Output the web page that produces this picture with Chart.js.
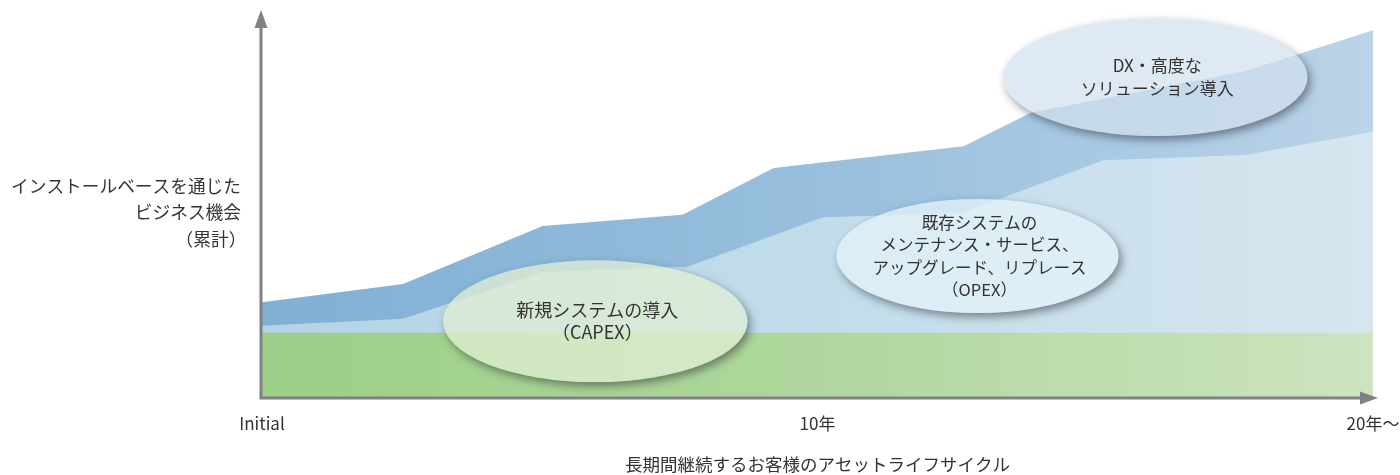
<!DOCTYPE html>
<html lang="ja">
<head>
<meta charset="utf-8">
<title>アセットライフサイクル</title>
<script src="https://cdn.jsdelivr.net/npm/chart.js@4.4.1/dist/chart.umd.min.js"></script>
<style>
    html, body { margin: 0; padding: 0; background: #fff; }
</style>
</head>
<body>
<canvas id="graficoArea" width="1400" height="475"></canvas>
<script>
// x = years (0 = Initial, 20 = 20年〜), y = cumulative business (0-100)
var baseYears = [0, 20];
var baseValues = [16.8, 16.8];

var opexYears = [0, 2.54, 5.05, 7.66, 10.1, 12.6, 15.15, 17.7, 20];
var opexValues = [18.6, 20.4, 32.5, 33.8, 46.6, 47.7, 61.3, 62.6, 68.6];

var dxYears = [0, 2.54, 5.05, 7.57, 9.21, 12.63, 13.84, 17.71, 20];
var dxValues = [24.7, 29.4, 44.3, 47.2, 59.3, 64.9, 73.5, 84.3, 94.8];

var tickYears = [0, 10, 20];
var tickLabels = ['Initial', '10年', '20年〜'];

var xTitle = '長期間継続するお客様のアセットライフサイクル';
var yTitle = ['インストールベースを通じた', 'ビジネス機会', '（累計）'];

var bubbleTexts = [
    ['新規システムの導入', '（CAPEX）'],
    ['既存システムの', 'メンテナンス・サービス、', 'アップグレード、リプレース', '（OPEX）'],
    ['DX・高度な', 'ソリューション導入']
];

// where the bubbles sit, in chart units
var bubbleLayout = [
    { year: 6.0, value: 19.8, rYear: 2.74, rValue: 15.7, font: 18, fill: 'rgba(225,238,211,0.75)' },
    { year: 12.88, value: 36.6, rYear: 2.54, rValue: 14.7, font: 16.5, fill: 'rgba(228,242,249,0.76)' },
    { year: 16.08, value: 82.7, rYear: 2.74, rValue: 15.2, font: 17, fill: 'rgba(210,223,238,0.7)' }
];

var fontFamily = '"Noto Sans CJK JP", "Noto Sans", sans-serif';
var textColor = '#333333';
var axisColor = '#808085';

function toPoints(xs, ys) {
    var out = [];
    for (var i = 0; i < xs.length; i++) {
        out.push({ x: xs[i], y: ys[i] });
    }
    return out;
}

function gradient(stops) {
    return function (context) {
        var chart = context.chart;
        var area = chart.chartArea;
        if (!area) {
            return stops[0];
        }
        var g = chart.ctx.createLinearGradient(area.left, 0, area.right, 0);
        for (var i = 0; i < stops.length; i++) {
            g.addColorStop(i / (stops.length - 1), stops[i]);
        }
        return g;
    };
}

var axesPlugin = {
    id: 'frecce',
    afterDatasetsDraw: function (chart) {
        var ctx = chart.ctx;
        var a = chart.chartArea;
        var x0 = a.left - 1;
        var y0 = a.bottom;
        ctx.save();
        ctx.strokeStyle = axisColor;
        ctx.fillStyle = axisColor;
        ctx.lineWidth = 3;
        ctx.beginPath();
        ctx.moveTo(x0, y0 + 1.5);
        ctx.lineTo(x0, a.top + 14);
        ctx.moveTo(x0 - 1.5, y0);
        ctx.lineTo(a.right - 10, y0);
        ctx.stroke();
        // arrow heads
        ctx.beginPath();
        ctx.moveTo(x0, a.top);
        ctx.lineTo(x0 + 6.5, a.top + 18);
        ctx.lineTo(x0 - 6.5, a.top + 18);
        ctx.closePath();
        ctx.fill();
        ctx.beginPath();
        ctx.moveTo(a.right + 5, y0);
        ctx.lineTo(a.right - 13, y0 - 6.5);
        ctx.lineTo(a.right - 13, y0 + 6.5);
        ctx.closePath();
        ctx.fill();
        ctx.restore();
    }
};

function drawBubble(chart, b, lines) {
    var ctx = chart.ctx;
    var xs = chart.scales.x;
    var ys = chart.scales.y;
    var cx = xs.getPixelForValue(b.year);
    var cy = ys.getPixelForValue(b.value);
    var rx = xs.getPixelForValue(b.year + b.rYear) - cx;
    var ry = cy - ys.getPixelForValue(b.value + b.rValue);

    // shadow only outside the ellipse
    ctx.save();
    ctx.beginPath();
    ctx.rect(0, 0, chart.width, chart.height);
    ctx.moveTo(cx + rx, cy);
    ctx.ellipse(cx, cy, rx, ry, 0, 0, Math.PI * 2);
    ctx.clip('evenodd');
    ctx.shadowColor = 'rgba(40,40,50,0.5)';
    ctx.shadowBlur = 8;
    ctx.shadowOffsetX = 10003;
    ctx.shadowOffsetY = 4;
    ctx.fillStyle = '#000';
    ctx.beginPath();
    ctx.ellipse(cx - 10000, cy, rx, ry, 0, 0, Math.PI * 2);
    ctx.fill();
    ctx.restore();

    ctx.save();
    ctx.beginPath();
    ctx.ellipse(cx, cy, rx, ry, 0, 0, Math.PI * 2);
    ctx.fillStyle = b.fill;
    ctx.fill();

    ctx.fillStyle = textColor;
    ctx.font = b.font + 'px ' + fontFamily;
    ctx.textAlign = 'center';
    ctx.textBaseline = 'middle';
    var lh = 22.5;
    var startY = cy - (lines.length - 1) * lh / 2;
    for (var i = 0; i < lines.length; i++) {
        ctx.fillText(lines[i], cx + 2, startY + i * lh);
    }
    ctx.restore();
}

var labelsPlugin = {
    id: 'etichette',
    afterDraw: function (chart) {
        var ctx = chart.ctx;
        var a = chart.chartArea;
        for (var i = 0; i < bubbleLayout.length; i++) {
            drawBubble(chart, bubbleLayout[i], bubbleTexts[i]);
        }
        // y title, horizontal, to the left of the axis
        ctx.save();
        ctx.fillStyle = textColor;
        ctx.font = '17.7px ' + fontFamily;
        ctx.textBaseline = 'middle';
        var lh = 26.5;
        var midY = a.top + (a.bottom - a.top) * 0.522;
        var rightX = a.left - 21;
        ctx.textAlign = 'right';
        ctx.fillText(yTitle[0], rightX, midY - lh);
        ctx.fillText(yTitle[1], rightX, midY);
        ctx.textAlign = 'center';
        ctx.fillText(yTitle[2], rightX - 30, midY + lh);
        ctx.restore();
    }
};

var ctx = document.getElementById('graficoArea');
var chart = new Chart(ctx, {
    type: 'line',
    data: {
        datasets: [{
            label: 'CAPEX',
            data: toPoints(baseYears, baseValues),
            backgroundColor: gradient(['#9ccf87', '#afd79d', '#cde4c0']),
            fill: 'origin'
        }, {
            label: 'OPEX',
            data: toPoints(opexYears, opexValues),
            backgroundColor: gradient(['#b3d3e4', '#c2dcea', '#d6e6ef']),
            fill: 'origin'
        }, {
            label: 'DX',
            data: toPoints(dxYears, dxValues),
            backgroundColor: gradient(['#80afd4', '#98bfdd', '#bad3e8']),
            fill: 'origin'
        }]
    },
    options: {
        responsive: false,
        animation: false,
        layout: { padding: { left: 262, right: 27, top: 10, bottom: 0 } },
        elements: {
            line: { borderWidth: 0, tension: 0 },
            point: { radius: 0, hoverRadius: 0 }
        },
        plugins: {
            legend: { display: false },
            tooltip: { enabled: false }
        },
        scales: {
            x: {
                type: 'linear',
                min: 0,
                max: 20,
                afterBuildTicks: function (scale) {
                    var t = [];
                    for (var i = 0; i < tickYears.length; i++) {
                        t.push({ value: tickYears[i] });
                    }
                    scale.ticks = t;
                },
                afterFit: function (scale) {
                    scale.height = 77;
                    scale.paddingLeft = 0;
                    scale.paddingRight = 0;
                },
                grid: { display: false, drawTicks: false },
                border: { display: false },
                ticks: {
                    autoSkip: false,
                    maxRotation: 0,
                    padding: 15,
                    color: textColor,
                    font: { family: fontFamily, size: 17 },
                    callback: function (value, index) {
                        return tickLabels[index];
                    }
                },
                title: {
                    display: true,
                    text: xTitle,
                    color: textColor,
                    font: { family: fontFamily, size: 17.5 },
                    padding: { top: 0, bottom: 0 }
                }
            },
            y: {
                display: false,
                min: 0,
                max: 100
            }
        }
    },
    plugins: [axesPlugin, labelsPlugin]
});
</script>
</body>
</html>
